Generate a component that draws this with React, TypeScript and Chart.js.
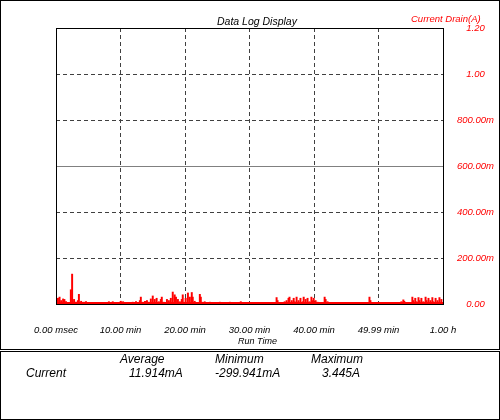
import React, { useEffect, useRef } from "react";
import { Chart, registerables } from "chart.js";

Chart.register(...registerables);

// ---- data ----
const xTickLabels = ["0.00 msec", "10.00 min", "20.00 min", "30.00 min", "40.00 min", "49.99 min", "1.00 h"];
const yTickLabels = ["0.00", "200.00m", "400.00m", "600.00m", "800.00m", "1.00", "1.20"];

// spike sample times (minutes)
const spikeTimes = [
  0.15, 0.3, 0.55, 0.8, 1.1, 1.3, 1.55, 1.85, 2.3, 2.5,
  2.8, 3.1, 3.4, 3.55, 3.9, 4.35, 4.65, 4.95, 5.4, 5.9,
  7.9, 8.2, 8.5, 8.8, 9.1, 9.45, 9.9, 10.05, 10.4, 10.7,
  11.45, 11.9, 12.4, 12.7, 13.0, 13.15, 13.45, 13.8, 14.1, 14.4,
  14.7, 15.0, 15.3, 15.6, 15.95, 16.25, 16.4, 16.7, 17.2, 17.5,
  17.8, 18.1, 18.4, 18.6, 18.9, 19.2, 19.5, 19.65, 19.95, 20.1,
  20.45, 20.75, 21.05, 21.2, 21.5, 22.3, 22.45, 22.6, 23.05, 23.4,
  23.85, 24.3, 24.75, 25.4, 26.0, 26.95, 28.65, 28.8, 30.0, 34.2,
  34.35, 35.45, 35.75, 36.05, 36.2, 36.55, 36.85, 37.0, 37.3, 37.6,
  37.9, 38.25, 38.4, 38.7, 39.0, 39.3, 39.6, 39.8, 39.95, 40.25,
  40.55, 41.65, 41.8, 42.1, 48.6, 48.75, 51.85, 53.55, 53.85, 54.0,
  55.25, 55.4, 55.7, 55.9, 56.2, 56.35, 56.65, 56.95, 57.3, 57.45,
  57.75, 58.05, 58.35, 58.5, 58.85, 59.15, 59.45, 59.75,
];
// current drain at those samples (A)
const spikeCurrents = [
  0.020, 0.025, 0.030, 0.015, 0.022, 0.020, 0.010, 0.006, 0.062, 0.130,
  0.020, 0.008, 0.015, 0.042, 0.012, 0.008, 0.010, 0.006, 0.006, 0.004,
  0.006, 0.010, 0.006, 0.010, 0.006, 0.004, 0.008, 0.012, 0.010, 0.005,
  0.005, 0.008, 0.010, 0.005, 0.015, 0.030, 0.008, 0.012, 0.015, 0.008,
  0.022, 0.035, 0.020, 0.025, 0.010, 0.020, 0.030, 0.008, 0.020, 0.015,
  0.025, 0.052, 0.040, 0.030, 0.020, 0.010, 0.020, 0.040, 0.008, 0.025,
  0.048, 0.030, 0.050, 0.030, 0.012, 0.042, 0.030, 0.008, 0.010, 0.006,
  0.008, 0.005, 0.006, 0.008, 0.005, 0.008, 0.010, 0.005, 0.004, 0.028,
  0.015, 0.010, 0.015, 0.025, 0.030, 0.015, 0.025, 0.010, 0.030, 0.015,
  0.025, 0.010, 0.030, 0.020, 0.025, 0.010, 0.030, 0.015, 0.025, 0.015,
  0.008, 0.030, 0.020, 0.010, 0.030, 0.015, 0.004, 0.010, 0.018, 0.012,
  0.030, 0.015, 0.025, 0.010, 0.028, 0.015, 0.025, 0.010, 0.030, 0.015,
  0.025, 0.015, 0.028, 0.010, 0.025, 0.015, 0.028, 0.020,
];
// baseline trace (minutes, A)
const baseTimes = [0, 60];
const baseCurrents = [0, 0];

const statHeaders = ["Average", "Minimum", "Maximum"];
const statRowLabel = "Current";
const statValues = ["11.914mA", "-299.941mA", "3.445A"];

const FONT = '"Liberation Sans", Arial, sans-serif';

const framePlugin = {
  id: "frame",
  afterDatasetsDraw(chart: any) {
    const { ctx, chartArea, scales } = chart;
    const y6 = scales.y.getPixelForValue(0.6);
    ctx.save();
    ctx.strokeStyle = "#808080";
    ctx.lineWidth = 1;
    ctx.beginPath();
    ctx.moveTo(chartArea.left, Math.round(y6) + 0.5);
    ctx.lineTo(chartArea.right, Math.round(y6) + 0.5);
    ctx.stroke();
    ctx.strokeStyle = "#000";
    ctx.strokeRect(chartArea.left + 0.5, chartArea.top + 0.5, chartArea.right - chartArea.left, chartArea.bottom - chartArea.top);
    ctx.restore();
  },
};

const isMid = (ctx: any) => ctx.tick && Math.abs(ctx.tick.value - 0.6) < 1e-6;

export default function App() {
  const ref = useRef<HTMLCanvasElement>(null);
  useEffect(() => {
    if (!ref.current) return;
    const chart = new Chart(ref.current, {
      type: "bar",
      data: {
        datasets: [
          {
            type: "line",
            data: baseTimes.map((t, i) => ({ x: t, y: baseCurrents[i] })),
            borderColor: "#ff0000",
            borderWidth: 4,
            pointRadius: 0,
            clip: 0,
          } as any,
          {
            type: "bar",
            data: spikeTimes.map((t, i) => ({ x: t, y: spikeCurrents[i] })),
            backgroundColor: "#ff0000",
            borderWidth: 0,
            barThickness: 1.3,
            grouped: false,
          } as any,
        ],
      },
      options: {
        responsive: false,
        animation: false,
        layout: { padding: { left: 56, top: 28, right: 0, bottom: 0 } },
        plugins: { legend: { display: false }, tooltip: { enabled: false }, title: { display: false } },
        scales: {
          x: {
            type: "linear",
            min: 0,
            max: 60,
            offset: false,
            grid: { offset: false, color: "#404040", lineWidth: 1, drawTicks: false },
            border: { display: false, dash: [4, 3] },
            ticks: {
              stepSize: 10,
              autoSkip: false,
              maxRotation: 0,
              padding: 21,
              color: "#000",
              font: { family: FONT, size: 9.5, style: "italic" },
              callback: (_v: any, i: number) => xTickLabels[i],
            },
            afterFit: (s: any) => { s.height = 44; },
          },
          y: {
            position: "right",
            min: 0,
            max: 1.2,
            grid: {
              color: (c: any) => (isMid(c) ? "rgba(0,0,0,0)" : "#404040"),
              lineWidth: 1,
              drawTicks: false,
            },
            border: { display: false, dash: [4, 3] },
            ticks: {
              stepSize: 0.2,
              padding: 14,
              crossAlign: "center",
              color: "#ff0000",
              font: { family: FONT, size: 9.5, style: "italic" },
              callback: (_v: any, i: number) => yTickLabels[i],
            },
            afterFit: (s: any) => { s.width = 57; },
          },
        },
      } as any,
      plugins: [framePlugin],
    });
    return () => chart.destroy();
  }, []);

  const txt = (left: number, top: number, size: number, color: string, s: string) => (
    <div
      style={{
        position: "absolute",
        left,
        top,
        fontFamily: FONT,
        fontStyle: "italic",
        fontSize: size,
        lineHeight: `${size}px`,
        color,
        whiteSpace: "nowrap",
      }}
    >
      {s}
    </div>
  );

  return (
    <div style={{ position: "absolute", left: 0, top: 0, width: 500, height: 420, background: "#fff" }}>
      <div style={{ position: "absolute", left: 0, top: 0, width: 500, height: 350, border: "1px solid #000", boxSizing: "border-box" }} />
      <div style={{ position: "absolute", left: 0, top: 351, width: 500, height: 69, border: "1px solid #000", boxSizing: "border-box" }} />
      <canvas ref={ref} width={500} height={348} style={{ position: "absolute", left: 0, top: 0, width: 500, height: 348 }} />
      {txt(217, 16, 10.5, "#000", "Data Log Display")}
      {txt(411, 14, 9.5, "#ff0000", "Current Drain(A)")}
      {txt(238, 337, 9, "#000", "Run Time")}
      {txt(120, 353, 12, "#000", statHeaders[0])}
      {txt(215, 353, 12, "#000", statHeaders[1])}
      {txt(311, 353, 12, "#000", statHeaders[2])}
      {txt(26, 367, 12, "#000", statRowLabel)}
      {txt(129, 367, 12, "#000", statValues[0])}
      {txt(215, 367, 12, "#000", statValues[1])}
      {txt(322, 367, 12, "#000", statValues[2])}
    </div>
  );
}
